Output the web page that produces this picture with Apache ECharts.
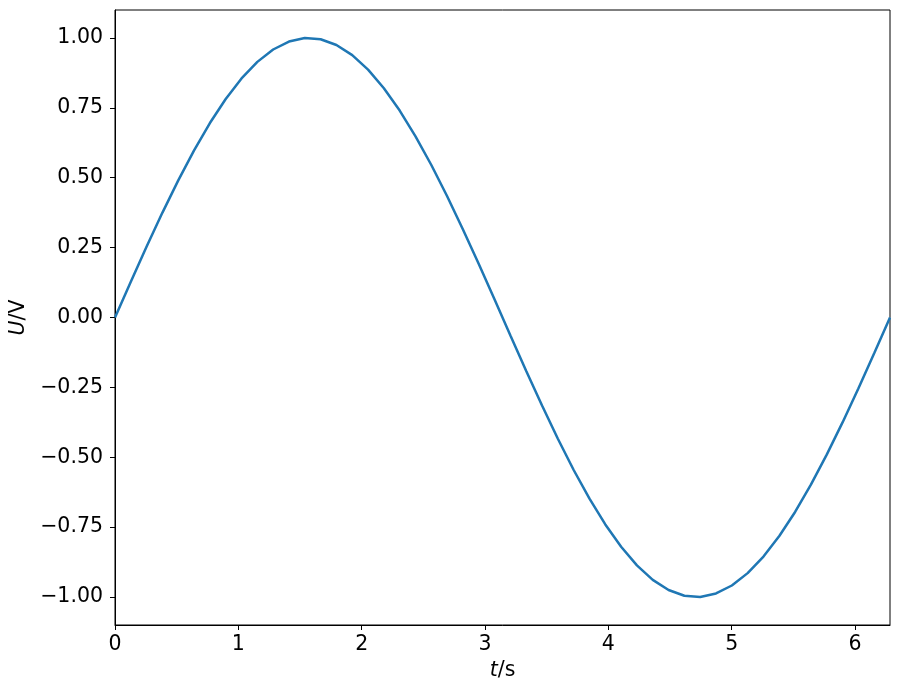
<!DOCTYPE html>
<html><head><meta charset="utf-8">
<script src="https://cdn.jsdelivr.net/npm/echarts@6/dist/echarts.min.js"></script>
<style>html,body{margin:0;padding:0;background:#fff}#c{width:899px;height:695px}</style>
</head><body><div id="c"></div>
<script>
const tValues = [0.0000,0.1282,0.2565,0.3847,0.5129,0.6411,0.7694,0.8976,1.0258,1.1541,1.2823,1.4105,1.5387,1.6670,1.7952,1.9234,2.0517,2.1799,2.3081,2.4363,2.5646,2.6928,2.8210,2.9493,3.0775,3.2057,3.3339,3.4622,3.5904,3.7186,3.8468,3.9751,4.1033,4.2315,4.3598,4.4880,4.6162,4.7444,4.8727,5.0009,5.1291,5.2574,5.3856,5.5138,5.6420,5.7703,5.8985,6.0267,6.1550,6.2832];
const uValues = [0.0000,0.1279,0.2537,0.3753,0.4907,0.5981,0.6956,0.7818,0.8551,0.9144,0.9587,0.9872,0.9995,0.9954,0.9749,0.9385,0.8866,0.8202,0.7403,0.6482,0.5455,0.4339,0.3151,0.1911,0.0641,-0.0641,-0.1911,-0.3151,-0.4339,-0.5455,-0.6482,-0.7403,-0.8202,-0.8866,-0.9385,-0.9749,-0.9954,-0.9995,-0.9872,-0.9587,-0.9144,-0.8551,-0.7818,-0.6956,-0.5981,-0.4907,-0.3753,-0.2537,-0.1279,0.0000];
const xTicks = [0,1,2,3,4,5,6];
const yTicks = [-1,-0.75,-0.5,-0.25,0,0.25,0.5,0.75,1];

const font = 'DejaVu Sans';
const chart = echarts.init(document.getElementById('c'), null, {renderer:'canvas'});
chart.setOption({
  animation:false,
  backgroundColor:'#fff',
  grid:{left:115, right:9, top:10, bottom:70, show:true, borderColor:'#000', borderWidth:1, backgroundColor:'transparent'},
  xAxis:{
    type:'value', min:0, max:6.283185307,
    name:'{i|t}{n|/s}', nameLocation:'middle', nameGap:34,
    nameTextStyle:{rich:{i:{fontFamily:font,fontSize:20.5,fontStyle:'italic',color:'#000'},n:{fontFamily:font,fontSize:20.5,color:'#000'}}},
    splitLine:{show:false},
    axisLine:{show:true, onZero:false, lineStyle:{color:'#000', width:1}},
    axisTick:{show:true, inside:false, length:5, customValues:xTicks, lineStyle:{color:'#000'}},
    axisLabel:{fontFamily:font, fontSize:20.5, color:'#000', margin:9, customValues:xTicks, formatter:v=>String(v)}
  },
  yAxis:{
    type:'value', min:-1.1, max:1.1,
    name:'{i|U}{n|/V}', nameLocation:'middle', nameGap:86, nameRotate:90,
    nameTextStyle:{rich:{i:{fontFamily:font,fontSize:20.5,fontStyle:'italic',color:'#000'},n:{fontFamily:font,fontSize:20.5,color:'#000'}}},
    splitLine:{show:false},
    axisLine:{show:true, onZero:false, lineStyle:{color:'#000', width:1}},
    axisTick:{show:true, inside:false, length:5, customValues:yTicks, lineStyle:{color:'#000'}},
    axisLabel:{fontFamily:font, fontSize:20.5, color:'#000', margin:12, customValues:yTicks,
      formatter:v=>(v<0?'\u2212':'')+Math.abs(v).toFixed(2)}
  },
  series:[{
    type:'line', data:tValues.map((t,i)=>[t,uValues[i]]),
    showSymbol:false, symbol:'none', clip:true,
    lineStyle:{color:'#1f77b4', width:2.5}
  }]
});
</script></body></html>
